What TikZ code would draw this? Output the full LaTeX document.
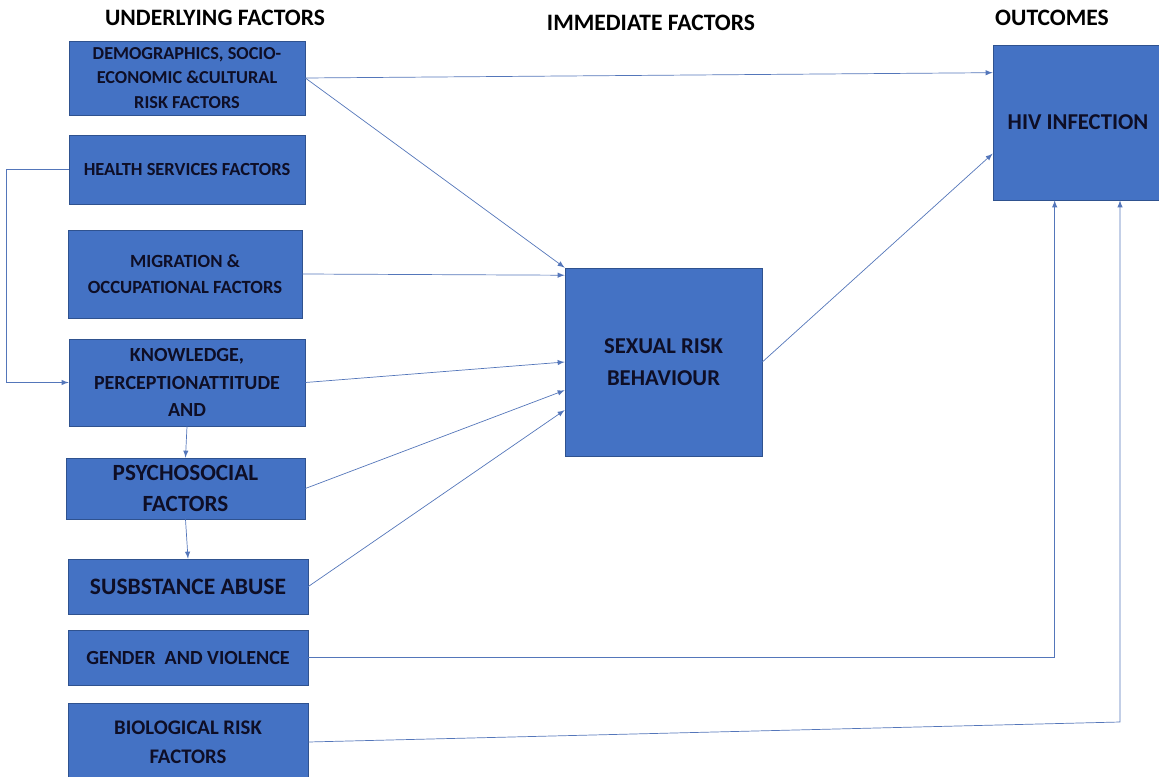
\documentclass[tikz,border=0pt]{standalone}
\usepackage{fontspec}
\setmainfont{Carlito}
\usepackage{xcolor}
\usepackage{tikz}
\usetikzlibrary{arrows,shapes,positioning,calc}
\definecolor{office-blue}{RGB}{68,114,196}
\definecolor{office-edge}{RGB}{47,82,143}
\definecolor{link-blue}{RGB}{84,118,186}
\definecolor{ink}{RGB}{14,14,38}

\begin{document}
\begin{tikzpicture}[x=0.02cm, y=-0.02cm,
    factor/.style = {shape=rectangle, draw=office-edge, fill=office-blue,
      align=center, text=ink, font=\bfseries\fontsize{10.4}{14}\selectfont,
      inner sep=1pt},
    bigfactor/.style = {factor, font=\bfseries\fontsize{13.2}{18}\selectfont},
    heading/.style = {text=black, font=\bfseries\fontsize{13.4}{14}\selectfont},
    post/.style={->, >=latex, draw=link-blue, thin}]

  \useasboundingbox (0,0) rectangle (1159,777);

  % column headings
  \node [heading] (under) at (215,18) {UNDERLYING FACTORS};
  \node [heading] (immed) at (651,23) {IMMEDIATE FACTORS};
  \node [heading] (outc) at (1052,18) {OUTCOMES};

  % underlying factors
  \node [factor, minimum width=4.72cm, minimum height=1.48cm] (demo) at (187,78)
    {DEMOGRAPHICS, SOCIO-\\ECONOMIC \&CULTURAL\\RISK FACTORS};
  \node [factor, minimum width=4.72cm, minimum height=1.38cm,
    font=\bfseries\fontsize{10.5}{14}\selectfont] (health) at (187,169.5)
    {HEALTH SERVICES FACTORS};
  \node [factor, minimum width=4.68cm, minimum height=1.76cm,
    font=\bfseries\fontsize{10.6}{14.5}\selectfont] (migr) at (185,274)
    {MIGRATION \&\\OCCUPATIONAL FACTORS};
  \node [factor, minimum width=4.72cm, minimum height=1.74cm,
    font=\bfseries\fontsize{11.4}{15.5}\selectfont] (know) at (187,382.5)
    {KNOWLEDGE,\\PERCEPTIONATTITUDE\\AND};
  \node [bigfactor, minimum width=4.78cm, minimum height=1.22cm] (psycho) at (185.5,488.5)
    {PSYCHOSOCIAL\\FACTORS};
  \node [bigfactor, minimum width=4.8cm, minimum height=1.1cm,
    font=\bfseries\fontsize{13.4}{18}\selectfont] (subst) at (188,586.5)
    {SUSBSTANCE ABUSE};
  \node [factor, minimum width=4.8cm, minimum height=1.1cm,
    font=\bfseries\fontsize{11.4}{14}\selectfont] (gender) at (188,657.5)
    {GENDER \ AND VIOLENCE};
  \node [factor, minimum width=4.8cm, minimum height=1.56cm,
    font=\bfseries\fontsize{11.8}{16.4}\selectfont] (bio) at (188,742)
    {BIOLOGICAL RISK\\FACTORS};

  % immediate factor and outcome
  \node [bigfactor, minimum width=3.94cm, minimum height=3.76cm,
    font=\bfseries\fontsize{12.9}{18}\selectfont] (sexual) at (663.5,362)
    {SEXUAL RISK\\BEHAVIOUR};
  \node [bigfactor, minimum width=3.4cm, minimum height=3.1cm,
    font=\bfseries\fontsize{12.9}{18}\selectfont] (hiv) at (1078,122.5) {HIV INFECTION};

  \coordinate (bioturn) at (1120,722);

  % connectors
  \draw [post] (demo.east) -- ($(hiv.north west)!0.18!(hiv.south west)$);
  \draw [post] (demo.east) -- (sexual.north west);
  \draw [post] (health.west) -- ++(-62,0) |- (know.west);
  \draw [post] (migr.east) -- ($(sexual.north west)!0.04!(sexual.south west)$);
  \draw [post] (know.east) -- (sexual.west);
  \draw [post] (know.south) -- (psycho.north);
  \draw [post] (psycho.east) -- ($(sexual.north west)!0.65!(sexual.south west)$);
  \draw [post] (psycho.south) -- (subst.north);
  \draw [post] (subst.east) -- ($(sexual.north west)!0.755!(sexual.south west)$);
  \draw [post] (sexual.east) -- ($(hiv.north west)!0.7!(hiv.south west)$);
  \draw [post] (gender.east) -| ($(hiv.south west)+(62,0)$);
  \draw [post] (bio.east) -- (bioturn) -- (bioturn |- hiv.south);
\end{tikzpicture}
\end{document}
